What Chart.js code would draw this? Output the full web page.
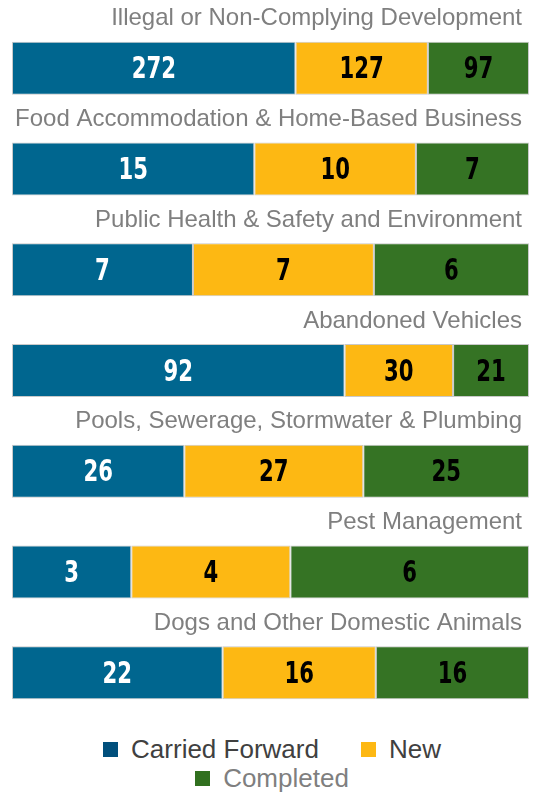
<!DOCTYPE html>
<html>
<head>
<meta charset="utf-8">
<script src="https://cdn.jsdelivr.net/npm/chart.js@4.4.0/dist/chart.umd.min.js"></script>
<style>
  body { margin: 0; background: #fff; font-family: "Liberation Sans", Arial, sans-serif; }
  #wrap { position: relative; width: 536px; height: 730px; }
  #legend { position: absolute; top: 735px; left: 4px; width: 536px; font-size: 26px; }
  .row { display: flex; justify-content: center; align-items: center; height: 29px; }
  .item { display: flex; align-items: center; }
  .box { width: 15px; height: 15px; margin-right: 13px; }
</style>
</head>
<body>
<div id="wrap"><canvas id="myChart"></canvas></div>
<div id="legend">
  <div class="row">
    <div class="item" style="margin-right:42px;color:#404040"><span class="box" style="background:#004f7c"></span>Carried Forward</div>
    <div class="item" style="color:#404040"><span class="box" style="background:#fdb813"></span>New</div>
  </div>
  <div class="row">
    <div class="item" style="color:#7f7f7f"><span class="box" style="background:#31701f"></span>Completed</div>
  </div>
</div>
<script>
const categories = [
    'Illegal or Non-Complying Development',
    'Food Accommodation & Home-Based Business',
    'Public Health & Safety and Environment',
    'Abandoned Vehicles',
    'Pools, Sewerage, Stormwater & Plumbing',
    'Pest Management',
    'Dogs and Other Domestic Animals'
];
const carriedForward = [272, 15, 7, 92, 26, 3, 22];
const newCases = [127, 10, 7, 30, 27, 4, 16];
const completed = [97, 7, 6, 21, 25, 6, 16];

const totals = categories.map((c, i) => carriedForward[i] + newCases[i] + completed[i]);
function share(arr) {
    return arr.map((v, i) => v / totals[i] * 100);
}

// category names above each bar
const titlesPlugin = {
    id: 'titles',
    afterDatasetsDraw(chart) {
        const ctx = chart.ctx;
        const meta = chart.getDatasetMeta(0);
        ctx.save();
        ctx.font = '24px "Liberation Sans", Arial, sans-serif';
        ctx.fillStyle = '#7f7f7f';
        ctx.textAlign = 'right';
        ctx.textBaseline = 'middle';
        meta.data.forEach((bar, i) => {
            ctx.fillText(categories[i], chart.chartArea.right - 7, bar.y - bar.height / 2 - 23);
        });
        ctx.restore();
    }
};

// raw counts in the middle of each segment, squeezed to look condensed
const valuesPlugin = {
    id: 'values',
    afterDatasetsDraw(chart) {
        const ctx = chart.ctx;
        chart.data.datasets.forEach((ds, d) => {
            chart.getDatasetMeta(d).data.forEach((bar, i) => {
                ctx.save();
                ctx.translate((bar.x + bar.base) / 2, bar.y + 2);
                ctx.scale(0.76, 1);
                ctx.font = 'bold 31px "Liberation Sans Narrow", "DejaVu Sans Condensed", sans-serif';
                ctx.textAlign = 'center';
                ctx.textBaseline = 'middle';
                ctx.fillStyle = ds.labelColor;
                ctx.fillText(ds.raw[i], 0, 0);
                ctx.restore();
            });
        });
    }
};

const ctx = document.getElementById('myChart').getContext('2d');
const myChart = new Chart(ctx, {
    type: 'bar',
    data: {
        labels: categories,
        datasets: [{
            label: 'Carried Forward',
            data: share(carriedForward),
            raw: carriedForward,
            labelColor: '#ffffff',
            backgroundColor: '#00668f',
            borderColor: '#c9c9c9',
            borderWidth: 1,
            borderSkipped: false
        }, {
            label: 'New',
            data: share(newCases),
            raw: newCases,
            labelColor: '#000000',
            backgroundColor: '#fdb813',
            borderColor: '#c9c9c9',
            borderWidth: 1,
            borderSkipped: false
        }, {
            label: 'Completed',
            data: share(completed),
            raw: completed,
            labelColor: '#000000',
            backgroundColor: '#357324',
            borderColor: '#c9c9c9',
            borderWidth: 1,
            borderSkipped: false
        }]
    },
    options: {
        indexAxis: 'y',
        responsive: true,
        maintainAspectRatio: false,
        animation: false,
        layout: {
            padding: { left: 12, right: 7, top: 18, bottom: 7 }
        },
        scales: {
            x: { stacked: true, min: 0, max: 100, display: false },
            y: { stacked: true, display: false }
        },
        datasets: {
            bar: { categoryPercentage: 1, barPercentage: 0.526 }
        },
        plugins: {
            legend: { display: false },
            tooltip: { enabled: false }
        }
    },
    plugins: [titlesPlugin, valuesPlugin]
});
</script>
</body>
</html>
